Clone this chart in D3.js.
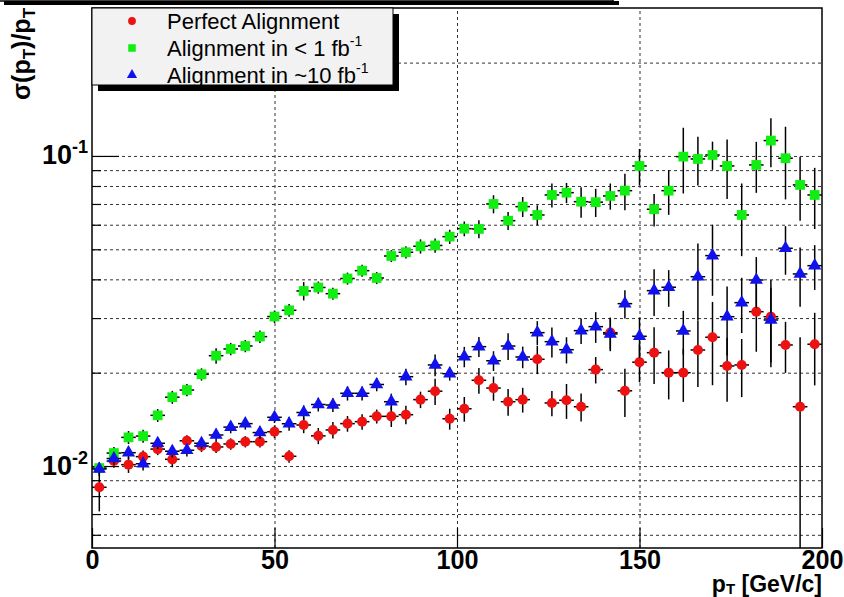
<!DOCTYPE html>
<html>
<head>
<meta charset="utf-8">
<script src="https://cdn.jsdelivr.net/npm/d3@7"></script>
<style>
body{margin:0;background:#fff}
svg{display:block;font-family:"Liberation Sans",Arial,sans-serif}
</style>
</head>
<body>
<div class="graph"></div>
<script>
// bin centres in GeV/c (4 GeV bins)
const ptBins = [2,6,10,14,18,22,26,30,34,38,42,46,50,54,58,62,66,70,74,78,
                82,86,90,94,98,102,106,110,114,118,122,126,130,134,138,142,146,150,154,158,
                162,166,170,174,178,182,186,190,194,198];
const ptHalfWidth = 2;

// Perfect Alignment
const perfect = [0.00854,0.01038,0.01010,0.01072,0.01134,0.01051,0.01206,0.01160,0.01152,0.01178,
                 0.01198,0.01198,0.01290,0.01075,0.01356,0.01251,0.01307,0.01370,0.01390,0.01446,
                 0.01446,0.01464,0.01637,0.01743,0.01420,0.01530,0.01890,0.01784,0.01612,0.01637,
                 0.02209,0.01597,0.01629,0.01553,0.02046,0.02692,0.01748,0.02162,0.02320,0.02000,
                 0.02000,0.02367,0.02602,0.02102,0.02118,0.03146,0.03031,0.02457,0.01553,0.02470];
const perfectErr = [0.0014,0.0005,0.0006,0.0005,0.0005,0.0006,0.0005,0.0005,0.0005,0.0005,
                    0.0005,0.0005,0.0006,0.0005,0.0008,0.00075,0.0008,0.0008,0.0008,0.00075,
                    0.0011,0.0010,0.0010,0.0017,0.0011,0.0014,0.0018,0.0016,0.0016,0.0015,
                    0.0023,0.0015,0.0021,0.0016,0.0020,0.0032,0.0031,0.0030,0.0048,0.0036,
                    0.0039,0.0057,0.0078,0.0049,0.0045,0.0081,0.0095,0.0046,0.0105,0.0065];

// Alignment in < 1 fb-1
const early = [0.00985,0.01101,0.01237,0.01249,0.01457,0.01667,0.01758,0.01976,0.02269,0.02385,
               0.02438,0.02614,0.03034,0.03178,0.03669,0.03765,0.03596,0.04025,0.04266,0.04041,
               0.04757,0.04890,0.05113,0.05144,0.05492,0.05828,0.05815,0.07000,0.06183,0.06863,
               0.06451,0.07484,0.07613,0.07121,0.07095,0.07430,0.07727,0.09284,0.06731,0.07727,
               0.09948,0.09779,0.10070,0.09284,0.06451,0.09354,0.11210,0.09831,0.08064,0.07484];
const earlyErr = [0.0004,0.0005,0.0006,0.0006,0.0007,0.0008,0.0008,0.0009,0.0013,0.0011,
                  0.0011,0.0012,0.0014,0.0015,0.0025,0.0017,0.0016,0.0018,0.0019,0.0018,
                  0.0021,0.0022,0.0027,0.0027,0.0029,0.0032,0.0039,0.0047,0.0041,0.0051,
                  0.0048,0.0067,0.0057,0.0080,0.0074,0.0072,0.0104,0.0125,0.0081,0.0127,
                  0.0238,0.0175,0.0105,0.0202,0.0170,0.0175,0.0201,0.0259,0.0188,0.0167];

// Alignment in ~10 fb-1
const later = [0.00978,0.01057,0.01104,0.01017,0.01184,0.01116,0.01124,0.01184,0.01259,0.01335,
               0.01370,0.01282,0.01436,0.01369,0.01488,0.01579,0.01573,0.01716,0.01716,0.01832,
               0.01612,0.01941,null,0.02118,0.01985,0.02252,0.02426,0.02185,0.02438,0.02247,
               0.02692,0.02518,0.02372,0.02733,0.02815,0.02666,0.03339,0.02620,0.03678,0.03772,
               0.02726,0.04079,0.04770,0.03031,0.03364,0.03980,0.02958,0.05038,0.04163,0.04427];
const laterErr = [0.0005,0.0005,0.0005,0.0005,0.0005,0.0005,0.0005,0.0005,0.0006,0.0006,
                  0.0006,0.0006,0.0006,0.0007,0.0008,0.0008,0.0008,0.0009,0.0009,0.0009,
                  0.0010,0.0012,null,0.0017,0.0010,0.0017,0.0018,0.0016,0.0024,0.0018,
                  0.0024,0.0028,0.0023,0.0026,0.0032,0.0032,0.0035,0.0039,0.0063,0.0051,
                  0.0044,0.0114,0.0123,0.0076,0.0068,0.0074,0.0080,0.0090,0.0090,0.0073];

const xTicks = [0,50,100,150,200];
const yMajor = [0.01,0.1];
const yMinor = [0.006,0.007,0.008,0.009,0.02,0.03,0.04,0.05,0.06,0.07,0.08,0.09,0.2];
const yLabels = {0.01:"-2", 0.1:"-1"};

const w = 844, h = 597;
const fLeft = 92, fRight = 822, fTop = 8, fBottom = 548;

const xScale = d3.scaleLinear().domain([0,200]).range([fLeft,fRight]);
const yScale = d3.scaleLog().domain([0.00544,0.300]).range([fBottom,fTop]);

const svg = d3.select(".graph").append("svg")
              .attr("width",w).attr("height",h);

svg.append("rect").attr("width",w).attr("height",h).attr("fill","#fff");

svg.append("defs").append("clipPath").attr("id","frame")
   .append("rect").attr("x",fLeft).attr("y",fTop)
   .attr("width",fRight-fLeft).attr("height",fBottom-fTop);

// grid
const gy = svg.append("g").attr("transform","translate("+fLeft+",0)")
   .call(d3.axisLeft(yScale).tickValues(yMajor.concat(yMinor)).tickSize(-(fRight-fLeft)).tickFormat(""));
const gx = svg.append("g").attr("transform","translate(0,"+fBottom+")")
   .call(d3.axisBottom(xScale).tickValues([50,100,150]).tickSize(-(fBottom-fTop)).tickFormat(""));
[gy,gx].forEach(g=>{
  g.select(".domain").remove();
  g.selectAll("line").attr("stroke","#333").attr("stroke-width",1).attr("stroke-dasharray","3,3");
});

// ticks
const tMinor = svg.append("g").attr("transform","translate("+fLeft+",0)")
   .call(d3.axisLeft(yScale).tickValues(yMinor).tickSize(-9).tickFormat(""));
const tMajor = svg.append("g").attr("transform","translate("+fLeft+",0)")
   .call(d3.axisLeft(yScale).tickValues(yMajor).tickSize(-27).tickPadding(4).tickFormat(""));
const tX = svg.append("g").attr("transform","translate(0,"+fBottom+")")
   .call(d3.axisBottom(xScale).tickValues(xTicks).tickSize(-20).tickFormat(d=>d));
[tMinor,tMajor,tX].forEach(g=>{
  g.select(".domain").remove();
  g.selectAll("line").attr("stroke","#000").attr("stroke-width",1.2);
});

tMajor.selectAll("text")
   .attr("fill","#000").attr("font-size",27).attr("font-weight","bold")
   .attr("font-family","Liberation Sans, Arial, sans-serif")
   .attr("dy",null).attr("y",8)
   .each(function(d){
     const t = d3.select(this);
     t.append("tspan").text("10");
     t.append("tspan").attr("font-size",18).attr("dy",-11).text(yLabels[d]);
   });

tX.selectAll("text")
   .attr("fill","#000").attr("font-size",28).attr("font-weight","bold")
   .attr("font-family","Liberation Sans, Arial, sans-serif")
   .attr("dy",null).attr("y",21)
   .attr("transform","scale(0.9,1)");

// data
const series = [
  {vals:perfect, errs:perfectErr, color:"#ee1111", shape:"circle"},
  {vals:early,   errs:earlyErr,   color:"#11ee11", shape:"square"},
  {vals:later,   errs:laterErr,   color:"#1111ee", shape:"triangle"}
];
const symbols = {circle:d3.symbolCircle, square:d3.symbolSquare, triangle:d3.symbolTriangle};
const sizes = {circle:80, square:95, triangle:75};

const plot = svg.append("g").attr("clip-path","url(#frame)");
const yMin = yScale.domain()[0];

series.forEach(s=>{
  const pts = ptBins.map((c,i)=>({c:c, v:s.vals[i], e:s.errs[i]})).filter(p=>p.v!==null);
  const g = plot.append("g");
  g.selectAll(".ev").data(pts).enter().append("line")
   .attr("x1",d=>xScale(d.c)).attr("x2",d=>xScale(d.c))
   .attr("y1",d=>yScale(d.v+d.e))
   .attr("y2",d=>yScale(Math.max(d.v-d.e, yMin*0.5)))
   .attr("stroke","#000").attr("stroke-width",1.5);
  g.selectAll(".eh").data(pts).enter().append("line")
   .attr("x1",d=>xScale(d.c-ptHalfWidth)).attr("x2",d=>xScale(d.c+ptHalfWidth))
   .attr("y1",d=>yScale(d.v)).attr("y2",d=>yScale(d.v))
   .attr("stroke","#000").attr("stroke-width",1.5);
  g.selectAll("path").data(pts).enter().append("path")
   .attr("d",d3.symbol().type(symbols[s.shape]).size(sizes[s.shape]))
   .attr("transform",d=>"translate("+xScale(d.c)+","+yScale(d.v)+")")
   .attr("fill",s.color);
});

// frame
svg.append("rect").attr("x",fLeft).attr("y",fTop)
   .attr("width",fRight-fLeft).attr("height",fBottom-fTop)
   .attr("fill","none").attr("stroke","#000").attr("stroke-width",1.5);

// axis titles
const yt = svg.append("text")
   .attr("transform","translate(30,100) rotate(-90)")
   .attr("font-size",25).attr("font-weight","bold");
yt.append("tspan").text("\u03c3(p");
yt.append("tspan").attr("font-size",17).attr("dy",5).text("T");
yt.append("tspan").attr("dy",-5).text(")/p");
yt.append("tspan").attr("font-size",17).attr("dy",5).text("T");

const xt = svg.append("text")
   .attr("x",fRight).attr("y",592).attr("text-anchor","end")
   .attr("font-size",23).attr("font-weight","bold");
xt.append("tspan").text("p");
xt.append("tspan").attr("font-size",15).attr("dy",2).text("T");
xt.append("tspan").attr("dy",-2).text(" [GeV/c]");

// title box remnant at the top
svg.append("rect").attr("x",4).attr("y",1).attr("width",615).attr("height",4).attr("fill","#000");
svg.append("rect").attr("x",-2).attr("y",-20).attr("width",615).attr("height",21)
   .attr("fill","#fff").attr("stroke","#000").attr("stroke-width",1.5);

// legend
const lg = svg.append("g");
lg.append("rect").attr("x",98).attr("y",14).attr("width",301).attr("height",77).attr("fill","#000");
lg.append("rect").attr("x",92).attr("y",8).attr("width",301).attr("height",77)
  .attr("fill","#f2f2f2").attr("stroke","#000").attr("stroke-width",1);
const legendItems = [
  {label:"Perfect Alignment", sup:null, s:series[0]},
  {label:"Alignment in < 1 fb", sup:"-1", s:series[1]},
  {label:"Alignment in ~10 fb", sup:"-1", s:series[2]}
];
legendItems.forEach((it,i)=>{
  const yy = 21 + i*27;
  lg.append("path")
    .attr("d",d3.symbol().type(symbols[it.s.shape]).size(sizes[it.s.shape]*0.6))
    .attr("transform","translate(132,"+yy+")")
    .attr("fill",it.s.color);
  const t = lg.append("text").attr("x",167).attr("y",yy+8).attr("font-size",22);
  t.append("tspan").text(it.label);
  if (it.sup) t.append("tspan").attr("font-size",14).attr("dy",-10).text(it.sup);
});
</script>
</body>
</html>
